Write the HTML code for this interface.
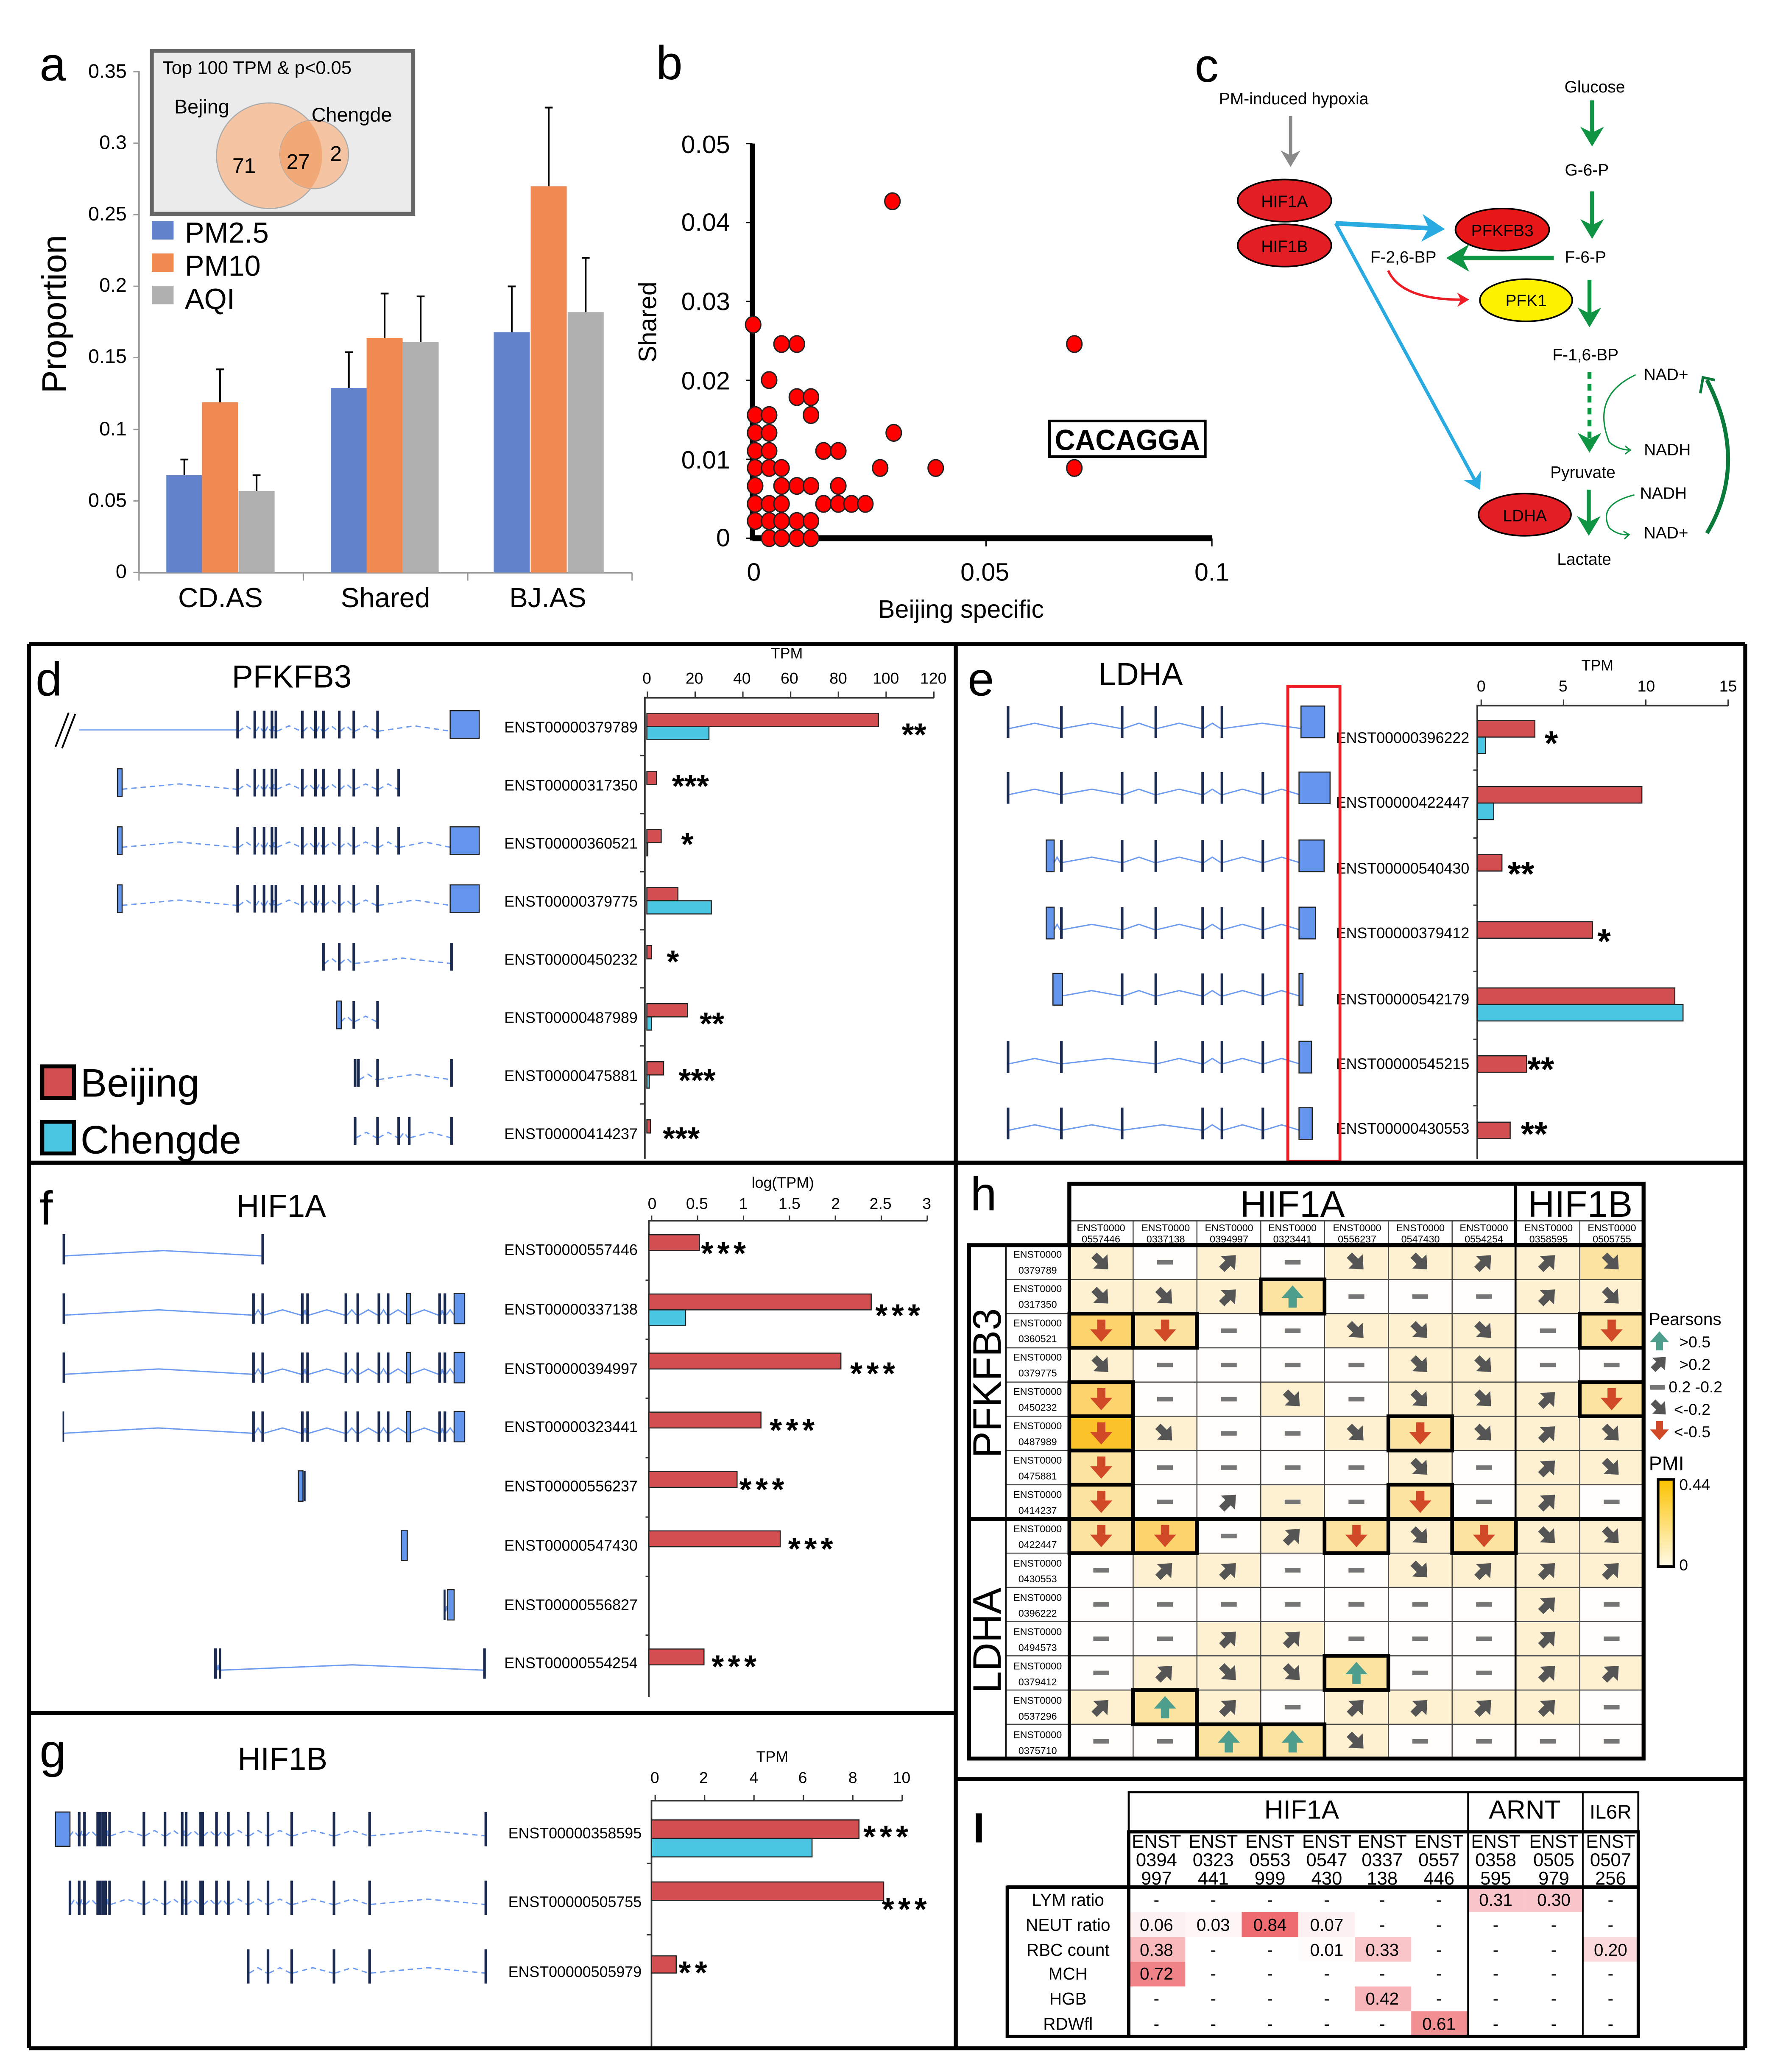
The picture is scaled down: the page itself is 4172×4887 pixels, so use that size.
<!DOCTYPE html>
<html><head><meta charset="utf-8">
<style>
html,body{margin:0;padding:0;background:#fff;}
svg{display:block;}
text{font-family:"Liberation Sans",sans-serif;fill:#000;}
</style></head>
<body>
<svg id="s" xmlns="http://www.w3.org/2000/svg" width="4172" height="4887" viewBox="0 0 1340 1570" preserveAspectRatio="none">
<defs>
<linearGradient id="pmi" x1="0" y1="0" x2="0" y2="1"><stop offset="0" stop-color="#fcc200"/><stop offset="1" stop-color="#fffbe8"/></linearGradient>
<path id="adn" d="M-3,-8 h6 v7 h5 l-8,9 l-8,-9 h5 z"/>
<path id="aup" d="M-3,8 h6 v-7 h5 l-8,-9 l-8,9 h5 z"/>
<marker id="mb" markerWidth="6" markerHeight="6" refX="4" refY="3" orient="auto" markerUnits="strokeWidth"><path d="M0,0 L5,3 L0,6 L1.5,3 z" fill="#29abe2"/></marker>
<marker id="mg" markerWidth="6" markerHeight="6" refX="4" refY="3" orient="auto" markerUnits="strokeWidth"><path d="M0,0 L5,3 L0,6 L1.5,3 z" fill="#0f9444"/></marker>
<marker id="mr" markerWidth="6" markerHeight="6" refX="4" refY="3" orient="auto" markerUnits="strokeWidth"><path d="M0,0 L5,3 L0,6 L1.5,3 z" fill="#ee1c24"/></marker>
<marker id="mgr" markerWidth="6" markerHeight="6" refX="4" refY="3" orient="auto" markerUnits="strokeWidth"><path d="M0,0 L5,3 L0,6 L1.5,3 z" fill="#8a8a8a"/></marker>
<marker id="mgt" markerWidth="8" markerHeight="8" refX="4" refY="4" orient="auto" markerUnits="strokeWidth"><path d="M0,1 L4,4 L0,7" fill="none" stroke="#0f9444" stroke-width="1"/></marker>
<clipPath id="cp"><circle cx="204" cy="118" r="40"/></clipPath>
</defs>
<rect width="1340" height="1570" fill="#fff"/>
<g id="dyn"></g>

<!-- Panel a texts -->
<text x="30" y="61" font-size="36">a</text>
<g font-size="15" text-anchor="end">
<text x="96" y="59">0.35</text><text x="96" y="113">0.3</text><text x="96" y="167">0.25</text><text x="96" y="221">0.2</text><text x="96" y="275">0.15</text><text x="96" y="330">0.1</text><text x="96" y="384">0.05</text><text x="96" y="438">0</text>
</g>
<text transform="translate(50,238) rotate(-90)" font-size="26" text-anchor="middle">Proportion</text>
<g font-size="21" text-anchor="middle"><text x="167" y="460">CD.AS</text><text x="292" y="460">Shared</text><text x="415" y="460">BJ.AS</text></g>
<g id="venn"></g>
<g font-size="22"><text x="140" y="184">PM2.5</text><text x="140" y="209">PM10</text><text x="140" y="234">AQI</text></g>

<!-- Panel b texts -->
<text x="497" y="60" font-size="36">b</text>
<g font-size="19" text-anchor="end">
<text x="553" y="116">0.05</text><text x="553" y="175">0.04</text><text x="553" y="235">0.03</text><text x="553" y="295">0.02</text><text x="553" y="355">0.01</text><text x="553" y="414">0</text>
</g>
<g font-size="19" text-anchor="middle"><text x="571" y="440">0</text><text x="746" y="440">0.05</text><text x="918" y="440">0.1</text></g>
<text x="728" y="468" font-size="19" text-anchor="middle">Beijing specific</text>
<text transform="translate(497,244) rotate(-90)" font-size="19" text-anchor="middle">Shared</text>
<rect x="795" y="319" width="118" height="27" fill="#fff" stroke="#000" stroke-width="2"/>
<text x="854" y="341" font-size="22" font-weight="bold" text-anchor="middle" textLength="110" lengthAdjust="spacingAndGlyphs">CACAGGA</text>

<!-- Panel c -->
<text x="905" y="62" font-size="36">c</text>
<g font-size="12.5" text-anchor="middle">
<text x="980" y="79">PM-induced hypoxia</text>
<text x="1208" y="70">Glucose</text>
<text x="1202" y="133">G-6-P</text>
<text x="1201" y="199">F-6-P</text>
<text x="1063" y="199">F-2,6-BP</text>
<text x="1201" y="273">F-1,6-BP</text>
<text x="1262" y="288">NAD+</text>
<text x="1263" y="345">NADH</text>
<text x="1199" y="362">Pyruvate</text>
<text x="1260" y="378">NADH</text>
<text x="1262" y="408">NAD+</text>
<text x="1200" y="428">Lactate</text>
</g>
<g stroke="#000" stroke-width="1.2">
<ellipse cx="973" cy="152" rx="35.5" ry="16" fill="#e31e24"/>
<ellipse cx="973" cy="186" rx="35.5" ry="16" fill="#e31e24"/>
<ellipse cx="1138" cy="174" rx="35.5" ry="16" fill="#e81818"/>
<ellipse cx="1156" cy="227.5" rx="35" ry="16" fill="#fff200"/>
<ellipse cx="1155" cy="390" rx="35" ry="16" fill="#e31e24"/>
</g>
<g font-size="12.5" text-anchor="middle">
<text x="973" y="157">HIF1A</text><text x="973" y="191">HIF1B</text><text x="1138" y="179">PFKFB3</text><text x="1156" y="232">PFK1</text><text x="1155" y="395">LDHA</text>
</g>
<g fill="none">
<line x1="977.6" y1="88" x2="977.6" y2="124" stroke="#8a8a8a" stroke-width="2.5" marker-end="url(#mgr)"/>
<line x1="1206" y1="76" x2="1206" y2="108" stroke="#0f9444" stroke-width="3" marker-end="url(#mg)"/>
<line x1="1206" y1="145" x2="1206" y2="178" stroke="#0f9444" stroke-width="3" marker-end="url(#mg)"/>
<line x1="1177" y1="195.5" x2="1099" y2="195.5" stroke="#0f9444" stroke-width="3.5" marker-end="url(#mg)"/>
<line x1="1204" y1="212" x2="1204" y2="245" stroke="#0f9444" stroke-width="3" marker-end="url(#mg)"/>
<line x1="1204" y1="282" x2="1204" y2="340" stroke="#0f9444" stroke-width="3" stroke-dasharray="5,4" marker-end="url(#mg)"/>
<line x1="1203.5" y1="371" x2="1203.5" y2="403" stroke="#0f9444" stroke-width="3" marker-end="url(#mg)"/>
<path d="M1011.7,169.2 L1091,173.4" stroke="#29abe2" stroke-width="3.5" marker-end="url(#mb)"/>
<path d="M1011.7,169.2 L1120,369" stroke="#29abe2" stroke-width="2.5" marker-end="url(#mb)"/>
<path d="M1051.5,205 Q1062,228 1111,227" stroke="#ee1c24" stroke-width="1.8" marker-end="url(#mr)"/>
<path d="M1239,284 Q1205,300 1219,335 Q1226,341 1235,341" stroke="#0f9444" stroke-width="1" marker-end="url(#mgt)"/>
<path d="M1238,375 Q1210,382 1219,400 Q1226,406 1234,405" stroke="#0f9444" stroke-width="1" marker-end="url(#mgt)"/>
<path d="M1293,404 Q1325,350 1293,288" stroke="#0a7a3a" stroke-width="3"/>
<path d="M1288,298 L1290,286 L1299,288" stroke="#0a7a3a" stroke-width="2"/>
</g>

<!-- Panel d -->
<text x="27" y="527" font-size="36">d</text>
<text x="221" y="521" font-size="24" text-anchor="middle">PFKFB3</text>
<text x="596" y="499" font-size="11.5" text-anchor="middle">TPM</text>
<g font-size="12" text-anchor="middle">
<text x="490" y="518">0</text><text x="526" y="518">20</text><text x="562" y="518">40</text><text x="598" y="518">60</text><text x="635" y="518">80</text><text x="671" y="518">100</text><text x="707" y="518">120</text>
</g>
<g font-size="11.5" text-anchor="end">
<text x="483" y="555">ENST00000379789</text><text x="483" y="599">ENST00000317350</text><text x="483" y="643">ENST00000360521</text><text x="483" y="687">ENST00000379775</text><text x="483" y="731">ENST00000450232</text><text x="483" y="775">ENST00000487989</text><text x="483" y="819">ENST00000475881</text><text x="483" y="863">ENST00000414237</text>
</g>
<g font-size="24" font-weight="bold">
<text x="683" y="565">**</text><text x="509" y="604">***</text><text x="516" y="648">*</text><text x="505" y="737">*</text><text x="530" y="784">**</text><text x="514" y="827">***</text><text x="502" y="871">***</text>
</g>
<text x="61" y="831" font-size="30">Beijing</text>
<text x="61" y="874" font-size="30">Chengde</text>

<!-- Panel e -->
<text x="733" y="527" font-size="36">e</text>
<text x="864" y="519" font-size="24" text-anchor="middle">LDHA</text>
<text x="1210" y="508" font-size="11.5" text-anchor="middle">TPM</text>
<g font-size="12" text-anchor="middle"><text x="1122" y="524">0</text><text x="1184" y="524">5</text><text x="1247" y="524">10</text><text x="1309" y="524">15</text></g>
<g font-size="11.5" text-anchor="end">
<text x="1113" y="563">ENST00000396222</text><text x="1113" y="612">ENST00000422447</text><text x="1113" y="662">ENST00000540430</text><text x="1113" y="711">ENST00000379412</text><text x="1113" y="761">ENST00000542179</text><text x="1113" y="810">ENST00000545215</text><text x="1113" y="859">ENST00000430553</text>
</g>
<g font-size="26" font-weight="bold">
<text x="1170" y="572">*</text><text x="1142" y="671">**</text><text x="1210" y="722">*</text><text x="1157" y="819">**</text><text x="1152" y="868">**</text>
</g>
<rect x="975.5" y="520" width="39.5" height="360" fill="none" stroke="#ee1c24" stroke-width="2.2"/>

<!-- Panel f -->
<text x="30" y="928" font-size="36">f</text>
<text x="213" y="922" font-size="24" text-anchor="middle">HIF1A</text>
<text x="593" y="900" font-size="11.5" text-anchor="middle">log(TPM)</text>
<g font-size="12" text-anchor="middle">
<text x="494" y="916">0</text><text x="528" y="916">0.5</text><text x="563" y="916">1</text><text x="598" y="916">1.5</text><text x="633" y="916">2</text><text x="667" y="916">2.5</text><text x="702" y="916">3</text>
</g>
<g font-size="11.5" text-anchor="end">
<text x="483" y="951">ENST00000557446</text><text x="483" y="996">ENST00000337138</text><text x="483" y="1041">ENST00000394997</text><text x="483" y="1085">ENST00000323441</text><text x="483" y="1130">ENST00000556237</text><text x="483" y="1175">ENST00000547430</text><text x="483" y="1220">ENST00000556827</text><text x="483" y="1264">ENST00000554254</text>
</g>
<g font-size="24" font-weight="bold" letter-spacing="3">
<text x="531" y="958">***</text><text x="663" y="1005">***</text><text x="644" y="1049">***</text><text x="583" y="1092">***</text><text x="560" y="1137">***</text><text x="597" y="1182">***</text><text x="539" y="1271">***</text>
</g>

<!-- Panel g -->
<text x="30" y="1339" font-size="36">g</text>
<text x="214" y="1341" font-size="24" text-anchor="middle">HIF1B</text>
<text x="585" y="1335" font-size="11.5" text-anchor="middle">TPM</text>
<g font-size="12" text-anchor="middle"><text x="496" y="1351">0</text><text x="533" y="1351">2</text><text x="571" y="1351">4</text><text x="608" y="1351">6</text><text x="646" y="1351">8</text><text x="683" y="1351">10</text></g>
<g font-size="11.5" text-anchor="end">
<text x="486" y="1393">ENST00000358595</text><text x="486" y="1445">ENST00000505755</text><text x="486" y="1498">ENST00000505979</text>
</g>
<g font-size="24" font-weight="bold" letter-spacing="3">
<text x="654" y="1400">***</text><text x="668" y="1455">***</text><text x="514" y="1503">**</text>
</g>

<!-- Panel h -->
<text x="735" y="917" font-size="36">h</text>
<text x="979" y="922" font-size="28" text-anchor="middle">HIF1A</text>
<text x="1197" y="922" font-size="28" text-anchor="middle">HIF1B</text>
<g font-size="7.5" text-anchor="middle">
<text x="834" y="933">ENST0000</text><text x="834" y="941.5">0557446</text>
<text x="883" y="933">ENST0000</text><text x="883" y="941.5">0337138</text>
<text x="931" y="933">ENST0000</text><text x="931" y="941.5">0394997</text>
<text x="979" y="933">ENST0000</text><text x="979" y="941.5">0323441</text>
<text x="1028" y="933">ENST0000</text><text x="1028" y="941.5">0556237</text>
<text x="1076" y="933">ENST0000</text><text x="1076" y="941.5">0547430</text>
<text x="1124" y="933">ENST0000</text><text x="1124" y="941.5">0554254</text>
<text x="1173" y="933">ENST0000</text><text x="1173" y="941.5">0358595</text>
<text x="1221" y="933">ENST0000</text><text x="1221" y="941.5">0505755</text>
</g>
<g font-size="7.5" text-anchor="middle">
<text x="786" y="953">ENST0000</text><text x="786" y="965">0379789</text>
<text x="786" y="979">ENST0000</text><text x="786" y="991">0317350</text>
<text x="786" y="1005">ENST0000</text><text x="786" y="1017">0360521</text>
<text x="786" y="1031">ENST0000</text><text x="786" y="1043">0379775</text>
<text x="786" y="1057">ENST0000</text><text x="786" y="1069">0450232</text>
<text x="786" y="1083">ENST0000</text><text x="786" y="1095">0487989</text>
<text x="786" y="1109">ENST0000</text><text x="786" y="1121">0475881</text>
<text x="786" y="1135">ENST0000</text><text x="786" y="1147">0414237</text>
<text x="786" y="1161">ENST0000</text><text x="786" y="1173">0422447</text>
<text x="786" y="1187">ENST0000</text><text x="786" y="1199">0430553</text>
<text x="786" y="1213">ENST0000</text><text x="786" y="1225">0396222</text>
<text x="786" y="1239">ENST0000</text><text x="786" y="1251">0494573</text>
<text x="786" y="1265">ENST0000</text><text x="786" y="1277">0379412</text>
<text x="786" y="1291">ENST0000</text><text x="786" y="1303">0537296</text>
<text x="786" y="1317">ENST0000</text><text x="786" y="1329">0375710</text>
</g>
<text transform="translate(758,1048) rotate(-90)" font-size="30" text-anchor="middle">PFKFB3</text>
<text transform="translate(758,1243) rotate(-90)" font-size="30" text-anchor="middle">LDHA</text>
<text x="1249" y="1004" font-size="13">Pearsons</text>
<g font-size="12">
<text x="1272" y="1021">&gt;0.5</text><text x="1272" y="1038">&gt;0.2</text><text x="1264" y="1055">0.2 -0.2</text><text x="1268" y="1072">&lt;-0.2</text><text x="1268" y="1089">&lt;-0.5</text>
</g>
<text x="1249" y="1114" font-size="15">PMI</text>
<rect x="1256" y="1121" width="12" height="66" fill="url(#pmi)" stroke="#000" stroke-width="2"/>
<text x="1272" y="1129" font-size="12">0.44</text>
<text x="1272" y="1190" font-size="12">0</text>

<!-- Panel I -->
<g id="ibg"></g>
<text x="737" y="1396" font-size="32" font-family="Liberation Serif" font-weight="bold">I</text>
<text x="986" y="1378" font-size="20" text-anchor="middle">HIF1A</text>
<text x="1155" y="1378" font-size="20" text-anchor="middle">ARNT</text>
<text x="1220" y="1378" font-size="15" text-anchor="middle">IL6R</text>
<g font-size="14" text-anchor="middle">
<text x="876" y="1400">ENST</text><text x="876" y="1414">0394</text><text x="876" y="1428">997</text>
<text x="919" y="1400">ENST</text><text x="919" y="1414">0323</text><text x="919" y="1428">441</text>
<text x="962" y="1400">ENST</text><text x="962" y="1414">0553</text><text x="962" y="1428">999</text>
<text x="1005" y="1400">ENST</text><text x="1005" y="1414">0547</text><text x="1005" y="1428">430</text>
<text x="1047" y="1400">ENST</text><text x="1047" y="1414">0337</text><text x="1047" y="1428">138</text>
<text x="1090" y="1400">ENST</text><text x="1090" y="1414">0557</text><text x="1090" y="1428">446</text>
<text x="1133" y="1400">ENST</text><text x="1133" y="1414">0358</text><text x="1133" y="1428">595</text>
<text x="1177" y="1400">ENST</text><text x="1177" y="1414">0505</text><text x="1177" y="1428">979</text>
<text x="1220" y="1400">ENST</text><text x="1220" y="1414">0507</text><text x="1220" y="1428">256</text>
</g>
<g font-size="13" text-anchor="middle">
<text x="809" y="1444">LYM ratio</text><text x="809" y="1463">NEUT ratio</text><text x="809" y="1482">RBC count</text><text x="809" y="1500">MCH</text><text x="809" y="1519">HGB</text><text x="809" y="1538">RDWfl</text>
</g>
<g font-size="13" text-anchor="middle">
<text x="876" y="1444">-</text><text x="919" y="1444">-</text><text x="962" y="1444">-</text><text x="1005" y="1444">-</text><text x="1047" y="1444">-</text><text x="1090" y="1444">-</text><text x="1133" y="1444">0.31</text><text x="1177" y="1444">0.30</text><text x="1220" y="1444">-</text>
<text x="876" y="1463">0.06</text><text x="919" y="1463">0.03</text><text x="962" y="1463">0.84</text><text x="1005" y="1463">0.07</text><text x="1047" y="1463">-</text><text x="1090" y="1463">-</text><text x="1133" y="1463">-</text><text x="1177" y="1463">-</text><text x="1220" y="1463">-</text>
<text x="876" y="1482">0.38</text><text x="919" y="1482">-</text><text x="962" y="1482">-</text><text x="1005" y="1482">0.01</text><text x="1047" y="1482">0.33</text><text x="1090" y="1482">-</text><text x="1133" y="1482">-</text><text x="1177" y="1482">-</text><text x="1220" y="1482">0.20</text>
<text x="876" y="1500">0.72</text><text x="919" y="1500">-</text><text x="962" y="1500">-</text><text x="1005" y="1500">-</text><text x="1047" y="1500">-</text><text x="1090" y="1500">-</text><text x="1133" y="1500">-</text><text x="1177" y="1500">-</text><text x="1220" y="1500">-</text>
<text x="876" y="1519">-</text><text x="919" y="1519">-</text><text x="962" y="1519">-</text><text x="1005" y="1519">-</text><text x="1047" y="1519">0.42</text><text x="1090" y="1519">-</text><text x="1133" y="1519">-</text><text x="1177" y="1519">-</text><text x="1220" y="1519">-</text>
<text x="876" y="1538">-</text><text x="919" y="1538">-</text><text x="962" y="1538">-</text><text x="1005" y="1538">-</text><text x="1047" y="1538">-</text><text x="1090" y="1538">0.61</text><text x="1133" y="1538">-</text><text x="1177" y="1538">-</text><text x="1220" y="1538">-</text>
</g>
<g id="top"></g>
<g font-size="14">
<text x="123" y="56">Top 100 TPM &amp; p&lt;0.05</text>
<text x="132" y="86" font-size="15">Bejing</text>
<text x="236" y="92" font-size="15">Chengde</text>
<text x="176" y="131" font-size="16">71</text>
<text x="217" y="128" font-size="16">27</text>
<text x="250" y="122" font-size="16">2</text>
</g>
</svg>
<script>
(function(){
var h=[],t=[],vn=[],ib=[];
function R(x,y,w,hh,f,s,sw,arr){arr=arr||h;arr.push('<rect x="'+x+'" y="'+y+'" width="'+w+'" height="'+hh+'" fill="'+f+'"'+(s?' stroke="'+s+'" stroke-width="'+(sw||1)+'"':'')+'/>');}
function L(x1,y1,x2,y2,s,sw,arr){arr=arr||h;arr.push('<line x1="'+x1+'" y1="'+y1+'" x2="'+x2+'" y2="'+y2+'" stroke="'+s+'" stroke-width="'+sw+'"/>');}
// ---- Panel a
var ya=function(v){return 433.8-v*1084;};
L(105.3,54,105.3,434,'#999',1.2);L(105,434,479,434,'#999',1.2);
[54.3,108.5,162.7,216.9,271,325.4,379.6,433.8].forEach(function(y){L(101,y,105.3,y,'#999',1);});
[105.3,229.8,354.3,478.8].forEach(function(x){L(x,434,x,440,'#999',1);});
var cols=['#6283cc','#f08a52','#b0b0b0'];
var bars=[[126,.068,.079],[153,.119,.142],[180.7,.057,.068],[250.6,.129,.154],[277.7,.164,.195],[305,.161,.193],[374,.168,.200],[402,.270,.325],[430,.182,.220]];
bars.forEach(function(b,i){var x=b[0],w=27.3;R(x,ya(b[1]),w,433.8-ya(b[1]),cols[i%3]);
 var cx=x+w/2;L(cx,ya(b[1]),cx,ya(b[2]),'#000',1.3);L(cx-3,ya(b[2]),cx+3,ya(b[2]),'#000',1.3);});
R(115,38.5,198,123.5,'#ebebeb','#666',3,vn);
vn.push('<circle cx="204" cy="118" r="40" fill="#f5c4a2" stroke="#aaa" stroke-width="0.8"/>');
vn.push('<circle cx="238" cy="117" r="26" fill="#f5c4a2" stroke="#aaa" stroke-width="0.8"/>');
vn.push('<circle cx="238" cy="117" r="26" fill="#f2a978" clip-path="url(#cp)"/>');
R(115,167.5,16.5,14,cols[0]);R(115,192,16.5,14,cols[1]);R(115,216.5,16.5,14,cols[2]);
// ---- Panel b
var yb=function(v){return 407.8-v*5980;};
L(570,yb(0.05),570,409.5,'#000',4);L(570,407.8,918,407.8,'#000',4.5);
[.05,.04,.03,.02,.01,0].forEach(function(v){L(565,yb(v),570,yb(v),'#000',1);});
L(746.9,408,746.9,414,'#000',1);L(918,408,918,414,'#000',1);
var pts=[[407.8,[582.6,592,603.6,614.3]],[394.8,[572,582.6,592,603.6,614.3]],[381.8,[572,582.6,592,623.8,635,645,655.5]],[368.2,[572,592,603.6,614.3,635]],[354.6,[572,582.6,592,666.7,708.8,813.8]],[341.7,[572,582.6,623.8,635]],[328,[572,582.6,677]],[314.5,[572,582.6,614.3]],[300.9,[603.6,614.3]],[288,[582.6]],[260.7,[592,603.6,813.8]],[246,[570.5]],[152.5,[676]]];
pts.forEach(function(r){r[1].forEach(function(x){h.push('<ellipse cx="'+x+'" cy="'+r[0]+'" rx="5.8" ry="6.3" fill="#ff0000" stroke="#222" stroke-width="1"/>');});});
// ---- frames
var F=[[22,488,1322,488],[22,488,22,1552],[1322,488,1322,1552],[22,1552,1322,1552],[724,488,724,1552],[22,881,1322,881],[22,1298,724,1298],[724,1348,1322,1348]];
// ---- gene helper
function gene(cy,hh,feats,dashed){
 var s=feats.slice().sort(function(a,b){return a[0]-b[0];});
 for(var i=0;i<s.length-1;i++){var a=s[i][0]+s[i][1],b=s[i+1][0];if(b-a<1)continue;var m=(a+b)/2;
  h.push('<polyline points="'+a+','+(cy+5)+' '+m+','+(cy+1)+' '+b+','+(cy+5)+'" fill="none" stroke="#6f9cf0" stroke-width="1"'+(dashed?' stroke-dasharray="4,3"':'')+'/>');}
 s.forEach(function(f){var w=f[1];if(w<=2.5){R(f[0],cy-hh/2,w,hh,'#1a2a50');}else{R(f[0],cy-hh/2,w,hh,'#6495ed','#222',0.8);}});
}
function tk(arr){return arr.map(function(x){return [x,2,0];});}
// d
var A=[179,192,199,205,208,228,238,244,256,267,285];
var dy=[549,593,637,681,725,769,813,857];
h.push('<line x1="42" y1="566" x2="52" y2="540" stroke="#000" stroke-width="1.3"/><line x1="47" y1="567" x2="57" y2="541" stroke="#000" stroke-width="1.3"/>');
L(60,553,179,553,'#8fb2f5',1.2);
gene(dy[0],21,tk(A).concat([[341,22]]),true);
gene(dy[1],21,[[89,3.5]].concat(tk(A.concat([301]))),true);
gene(dy[2],21,[[89,3.5]].concat(tk(A.concat([301]))).concat([[341,22]]),true);
gene(dy[3],21,[[89,3.5]].concat(tk(A)).concat([[341,22]]),true);
gene(dy[4],21,tk([244,256,267,341]),true);
gene(dy[5],21,[[255,3.5]].concat(tk([267,285])),true);
gene(dy[6],21,tk([268,270.5,285,341]),true);
gene(dy[7],21,tk([268,285,301,309,341]),true);
var dx=function(v){return 490.4+v*1.8083;};
L(488,528.7,707.4,528.7,'#333',1.2);L(488.5,528,488.5,878,'#333',1.2);
[0,20,40,60,80,100,120].forEach(function(v){L(dx(v),524,dx(v),529,'#333',1);});
var dv=[[97,26],[4,0],[6,.4],[13,27],[2,0],[17,2],[7,1],[1.5,0]];
dv.forEach(function(v,i){var c=dy[i]+1.5;R(490,c-10,v[0]*1.8083,10,'#d44f52','#222',0.8);if(v[1]>0)R(490,c,v[1]*1.8083,10,'#4ac6e2','#222',0.8);if(i>0)L(485,c-22,489,c-22,'#333',1);});
R(32,808,24,24,'#d44f52','#000',3);R(32,850,24,24,'#4ac6e2','#000',3);
// e
var ey=[547,597,648.5,699.4,749.6,801,851.3];
var E=[762.6,803,849,874.5,910,924.6,955.6];
gene(ey[0],24,tk([762.6,803,849,874.5,910,924.6]).concat([[985.5,17.9]]),false);
gene(ey[1],24,tk(E).concat([[984,23.5]]),false);
gene(ey[2],24,[[792.5,6]].concat(tk([803,849,874.5,910,924.6,955.6])).concat([[984,19]]),false);
gene(ey[3],24,[[792.5,6]].concat(tk([803,849,874.5,910,924.6,955.6])).concat([[984,12.6]]),false);
gene(ey[4],24,[[797.6,7.2]].concat(tk([849,874.5,910,924.6,955.6])).concat([[984,3]]),false);
gene(ey[5],24,tk([762.6,803,874.5,910,924.6,955.6]).concat([[984,9.5]]),false);
gene(ey[6],24,tk([762.6,803,849,910,924.6,955.6]).concat([[984,10]]),false);
var ex=function(v){return 1122+v*12.47;};
L(1119,534.7,1309,534.7,'#333',1.2);L(1119,534,1119,878,'#333',1.2);
[0,5,10,15].forEach(function(v){L(ex(v),530,ex(v),535,'#333',1);});
var ev=[[3.5,.5],[10,1],[1.5,0],[7,0],[12,12.5],[3,0],[2,0]];
ev.forEach(function(v,i){var c=ey[i]+11.5;R(1119,c-12.5,v[0]*12.47,12.5,'#d44f52','#222',0.8);if(v[1]>0)R(1119,c,v[1]*12.47,12.5,'#4ac6e2','#222',0.8);if(i>0)L(1116,c-25,1119,c-25,'#333',1);});
// f
var fy=[946.6,991.5,1036.3,1081,1126,1171,1216,1260.5];
var FA=[191,198,228,232,261,270,286,293,332,336];
gene(fy[0],23,tk([47.4,198]),false);
gene(fy[1],23,tk([47.4].concat(FA)).concat([[308,2.8],[344,8]]),false);
gene(fy[2],23,tk([47.4].concat(FA)).concat([[308,2.8],[344,8]]),false);
gene(fy[3],23,[[47.4,1.2,0]].concat(tk(FA)).concat([[308,2.8],[344,8]]),false);
gene(fy[4],23,[[226,3.5],[230,1.5]],false);
gene(fy[5],23,[[304,4.5]],false);
gene(fy[6],23,[[336,1.5],[339,5]],false);
gene(fy[7],23,[[162,2.5],[166,1.5],[366,2]],false);
var fx=function(v){return 493.6+v*69.6;};
L(491,925,702.4,925,'#333',1.2);L(491.5,925,491.5,1286,'#333',1.2);
[0,.5,1,1.5,2,2.5,3].forEach(function(v){L(fx(v),921,fx(v),925,'#333',1);});
var fv=[[.55,0],[2.42,.4],[2.09,0],[1.22,0],[.96,0],[1.43,0],[0,0],[.6,0]];
fv.forEach(function(v,i){var c=fy[i]+1;if(v[0]>0)R(491.5,c-12,v[0]*69.6,12,'#d44f52','#222',0.8);if(v[1]>0)R(491.5,c,v[1]*69.6,12,'#4ac6e2','#222',0.8);if(i>0)L(489,c-22.5,492,c-22.5,'#333',1);});
// g
var gy=[1386,1438,1490];
var G=[59,63,73,75,77,79,82,108,124,137,140,151,152.5,163,172,187,202,220,252,279,367];
gene(gy[0],26,[[42,11]].concat(tk(G)),true);
gene(gy[1],26,tk([52].concat(G)),true);
gene(gy[2],26,tk([187,202,220,252,279,367]),true);
var gx=function(v){return 496.3+v*18.71;};
L(493,1364.4,683.4,1364.4,'#333',1.2);L(493.5,1364,493.5,1552,'#333',1.2);
[0,2,4,6,8,10].forEach(function(v){L(gx(v),1360,gx(v),1364.4,'#333',1);});
R(493.5,1379,8.4*18.71,14,'#d44f52','#222',0.8);R(493.5,1393,6.5*18.71,14,'#4ac6e2','#222',0.8);
R(493.5,1426,9.4*18.71,14,'#d44f52','#222',0.8);R(493.5,1482,1*18.71,13,'#d44f52','#222',0.8);
L(490,1412,494,1412,'#333',1);L(490,1466,494,1466,'#333',1);
// ---- Panel h
var code=["SDUDSSUUS","SSUGDDDUS","RRDDSSSDR","SDDDDSSDD","RDDSDSSUR","RSDDSRSUS","RDDDDSDUS","RDUDDRDUD","RRDURSRSS","DUUDDSUUU","DDDDDDDUD","DDUUDDDUD","DUSSGDDUU","UGUDUUUUD","DDGGSDDDD"];
var inten=["101011112","111200011","320011102","100001100","300101112","410012111","200001011","200102010","230121211","011001111","000000010","001100010","011120011","121011110","002210000"];
var bg=['#fffefa','#fdf1d2','#fde3a0','#fdd36e','#fcc22a'];
var x0=810,cw=48.33,y0=943.5,rh=25.93;
var tp=[];
for(var r=0;r<15;r++){for(var c=0;c<9;c++){R(x0+c*cw,y0+r*rh,cw,rh,bg[+inten[r][c]]);}}
for(var c=0;c<=9;c++)L(x0+c*cw,y0,x0+c*cw,y0+15*rh,'#444',0.8);
for(var r=0;r<=15;r++)L(762,y0+r*rh,x0+9*cw,y0+r*rh,'#444',0.8);
for(var c=1;c<9;c++)L(x0+c*cw,925,x0+c*cw,943.5,'#444',0.8);
L(810,925,1245,925,'#444',1);
for(var r=0;r<15;r++){for(var c=0;c<9;c++){var cx=x0+(c+.5)*cw,cy=y0+(r+.5)*rh,k=code[r][c];
 if(k=='D')R(cx-6,cy-1.7,12,3.4,'#777');
 else if(k=='S')h.push('<use href="#adn" transform="translate('+cx+','+cy+') rotate(-45) scale(0.95)" fill="#555"/>');
 else if(k=='U')h.push('<use href="#aup" transform="translate('+cx+','+cy+') rotate(45) scale(0.95)" fill="#555"/>');
 else if(k=='R'){h.push('<use href="#adn" transform="translate('+cx+','+cy+') scale(1.05)" fill="#d04a28"/>');tp.push('<rect x="'+(x0+c*cw)+'" y="'+(y0+r*rh)+'" width="'+cw+'" height="'+rh+'" fill="none" stroke="#000" stroke-width="2.8"/>');}
 else if(k=='G'){h.push('<use href="#aup" transform="translate('+cx+','+cy+') scale(1.05)" fill="#4e9e8e"/>');tp.push('<rect x="'+(x0+c*cw)+'" y="'+(y0+r*rh)+'" width="'+cw+'" height="'+rh+'" fill="none" stroke="#000" stroke-width="2.8"/>');}
}}
tp.push('<rect x="810" y="897" width="435" height="46.5" fill="none" stroke="#000" stroke-width="3"/>');
tp.push('<line x1="1148" y1="897" x2="1148" y2="943" stroke="#000" stroke-width="2.5"/>');
tp.push('<rect x="734" y="943.5" width="511" height="389" fill="none" stroke="#000" stroke-width="3"/>');
tp.push('<line x1="734" y1="1151" x2="1245" y2="1151" stroke="#000" stroke-width="3"/>');
tp.push('<line x1="810" y1="943" x2="810" y2="1333" stroke="#000" stroke-width="2.5"/>');
tp.push('<line x1="762" y1="943" x2="762" y2="1333" stroke="#000" stroke-width="1"/>');
tp.push('<line x1="1148" y1="943" x2="1148" y2="1333" stroke="#000" stroke-width="1.5"/>');
h.push('<use href="#aup" transform="translate(1257,1016) scale(0.9)" fill="#4e9e8e"/>');
h.push('<use href="#aup" transform="translate(1257,1033) rotate(45) scale(0.85)" fill="#555"/>');
R(1250,1049.5,11,3.5,'#777');
h.push('<use href="#adn" transform="translate(1257,1067) rotate(-45) scale(0.85)" fill="#555"/>');
h.push('<use href="#adn" transform="translate(1257,1084) scale(0.9)" fill="#d04a28"/>');
// ---- Panel I
var ix=[855,897.8,940.6,983.4,1026.2,1069,1112,1155.5,1199,1241];
var iy=[1430,1448.8,1467.6,1486.4,1505.2,1524,1543];
function ic(c,r,col){R(ix[c],iy[r],ix[c+1]-ix[c],iy[r+1]-iy[r],col,null,null,ib);}
ic(6,0,'#f9c7cb');ic(7,0,'#f9c7cb');ic(0,1,'#fdf0f1');ic(1,1,'#fdf5f6');ic(2,1,'#ee6b6f');ic(3,1,'#fdf0f1');
ic(0,2,'#f8b9bd');ic(3,2,'#fefbfb');ic(4,2,'#f9c5c8');ic(8,2,'#fbdadc');ic(0,3,'#f08388');ic(4,4,'#f8b5b9');ic(5,5,'#f29094');
tp.push('<rect x="855" y="1358" width="386" height="30" fill="none" stroke="#000" stroke-width="1.5"/>');
tp.push('<line x1="1112" y1="1358" x2="1112" y2="1543" stroke="#000" stroke-width="1.2"/>');
tp.push('<line x1="1199" y1="1358" x2="1199" y2="1543" stroke="#000" stroke-width="1.2"/>');
tp.push('<rect x="855" y="1388" width="386" height="155" fill="none" stroke="#000" stroke-width="2.5"/>');
tp.push('<rect x="763" y="1430" width="92" height="113" fill="none" stroke="#000" stroke-width="2.5"/>');
tp.push('<line x1="763" y1="1430" x2="1241" y2="1430" stroke="#000" stroke-width="3"/>');
F.forEach(function(f){L(f[0],f[1],f[2],f[3],'#000',3,tp);});
document.getElementById('dyn').innerHTML=h.join('');
document.getElementById('top').innerHTML=tp.join('');
document.getElementById('venn').innerHTML=vn.join('');
document.getElementById('ibg').innerHTML=ib.join('');
})();
</script>
</body></html>
